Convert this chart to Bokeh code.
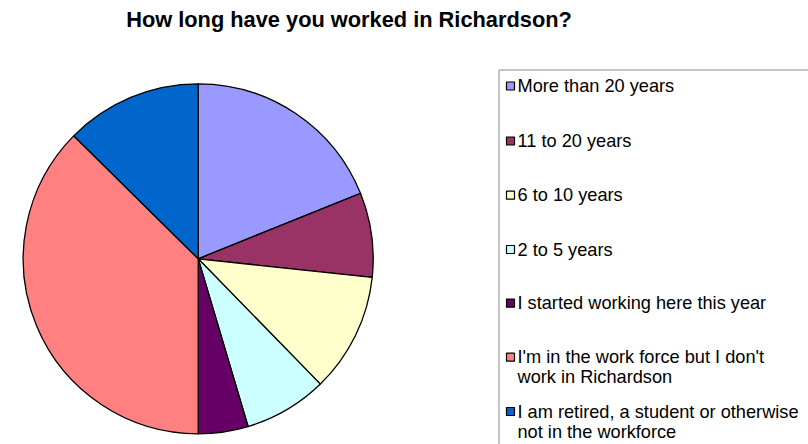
import math
from bokeh.plotting import figure
from bokeh.models import Range1d
from bokeh.core.properties import value
from bokeh.embed import file_html
from bokeh.resources import INLINE

title = "How long have you worked in Richardson?"
categories = [
    "More than 20 years",
    "11 to 20 years",
    "6 to 10 years",
    "2 to 5 years",
    "I started working here this year",
    "I'm in the work force but I don't\nwork in Richardson",
    "I am retired, a student or otherwise\nnot in the workforce",
]
shares = [18.9, 7.8, 11.0, 7.7, 4.6, 37.4, 12.6]
colors = ["#9999FF", "#993366", "#FFFFCC", "#CCFFFF", "#660066", "#FF8080", "#0066CC"]

W, H = 808, 444
p = figure(width=W, height=H, output_backend="svg", toolbar_location=None,
           x_range=Range1d(0, W), y_range=Range1d(0, H), min_border=0)
p.axis.visible = False
p.grid.visible = False
p.outline_line_color = None
p.background_fill_color = "white"
p.border_fill_color = "white"

def px(X):
    return X

def py(Y):
    return H - Y

total = sum(shares)
cx, cy, r = px(197.7), py(258.3), 175
cum = 0.0
starts, ends = [], []
for s in shares:
    starts.append(math.pi / 2 - 2 * math.pi * cum / total)
    cum += s
    ends.append(math.pi / 2 - 2 * math.pi * cum / total)

p.wedge(x=[cx] * len(shares), y=[cy] * len(shares), radius=r,
        start_angle=starts, end_angle=ends, direction="clock",
        fill_color=colors, line_color="black", line_width=1.3)

# title
p.text(x=[px(348.5)], y=[py(19)], text=[title], text_font=value("Liberation Sans"),
       text_font_size="21.8px", text_font_style="bold", text_align="center",
       text_baseline="middle", text_color="black")

# legend box
p.quad(left=[px(498.5)], right=[px(830)], top=[py(69.5)], bottom=[py(470)],
       fill_color="white", line_color="#8c8c8c", line_width=1)

row_y = [85.5, 140.5, 194.7, 249, 302.7, 356.7, 411]
p.rect(x=[px(510)] * len(categories), y=[py(v) for v in row_y], width=8, height=8,
       fill_color=colors, line_color="black", line_width=1.2)

lx, ly, lt = [], [], []
for cat, yv in zip(categories, row_y):
    for i, line in enumerate(cat.split("\n")):
        lx.append(px(517))
        ly.append(py(yv + i * 20))
        lt.append(line)
p.text(x=lx, y=ly, text=lt, text_font=value("Liberation Sans"), text_font_size="18.2px",
       text_baseline="middle", text_align="left", text_color="black")

open("out.html", "w").write(file_html(p, INLINE))
